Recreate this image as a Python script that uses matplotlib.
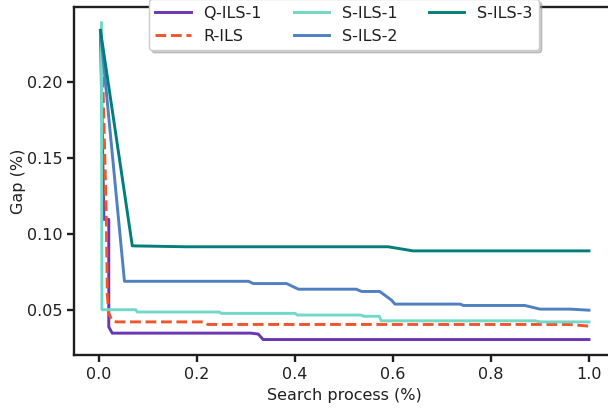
import matplotlib
matplotlib.use("Agg")
import matplotlib.pyplot as plt

# ---------------- gap curves over the search process

q_ils1_x = [0.003, 0.010, 0.020, 0.020, 0.027, 0.310, 0.325, 0.335, 1.0]
q_ils1_y = [0.234, 0.1097, 0.1097, 0.039, 0.0349, 0.0349, 0.0343, 0.0307, 0.0307]

r_ils_x = [0.003, 0.008, 0.015, 0.017, 0.020, 0.026, 0.035, 0.216, 0.222, 0.960, 1.0]
r_ils_y = [0.234, 0.200, 0.110, 0.060, 0.048, 0.0435, 0.0423, 0.0423, 0.0406, 0.0406, 0.0395]

s_ils1_x = [0.005, 0.006, 0.075, 0.078, 0.245, 0.250, 0.400, 0.405, 0.535, 0.540,
            0.572, 0.576, 0.890, 0.900, 1.0]
s_ils1_y = [0.239, 0.0503, 0.0503, 0.0488, 0.0488, 0.0479, 0.0479, 0.0468, 0.0468, 0.046,
            0.046, 0.043, 0.043, 0.0423, 0.0423]

s_ils2_x = [0.003, 0.052, 0.305, 0.315, 0.383, 0.407, 0.525, 0.536, 0.573, 0.597,
            0.604, 0.737, 0.744, 0.869, 0.900, 0.961, 1.0]
s_ils2_y = [0.234, 0.069, 0.069, 0.0675, 0.0675, 0.0638, 0.0638, 0.0623, 0.0623, 0.0566,
            0.054, 0.054, 0.0531, 0.0531, 0.0507, 0.0507, 0.050]

s_ils3_x = [0.003, 0.068, 0.179, 0.590, 0.641, 1.0]
s_ils3_y = [0.234, 0.0923, 0.0917, 0.0917, 0.089, 0.089]

plt.rcParams['font.size'] = 11.5
plt.rcParams['axes.linewidth'] = 1.7
for key in ['text.color', 'axes.labelcolor', 'xtick.color', 'ytick.color', 'axes.edgecolor']:
    plt.rcParams[key] = '0.12'

fig = plt.figure(figsize=(6.08, 4.08), dpi=100)
ax = fig.add_axes([0.1225, 0.129, 0.8865, 0.854])

ax.plot(q_ils1_x, q_ils1_y, color='#6a36b3', lw=2.1, label='Q-ILS-1')
ax.plot(r_ils_x, r_ils_y, color='#f0552c', lw=2.1, ls='--', label='R-ILS')
ax.plot(s_ils1_x, s_ils1_y, color='#72d8c8', lw=2.1, label='S-ILS-1')
ax.plot(s_ils2_x, s_ils2_y, color='#4f80c0', lw=2.1, label='S-ILS-2')
ax.plot(s_ils3_x, s_ils3_y, color='#007f7a', lw=2.1, label='S-ILS-3')

ax.set_xlim(-0.05, 1.05)
ax.set_yticks([0.05, 0.10, 0.15, 0.20])
ax.tick_params(width=1.7, length=5)

ax.set_xlabel("Search process (%)")
ax.set_ylabel("Gap (%)", labelpad=1)

ax.legend(loc='upper center', bbox_to_anchor=(0.5, 1.045), ncol=3,
          shadow={'color': '0.6', 'alpha': 0.5},
          handlelength=2.2, columnspacing=2.0)

fig.savefig("out.png", dpi=100)
